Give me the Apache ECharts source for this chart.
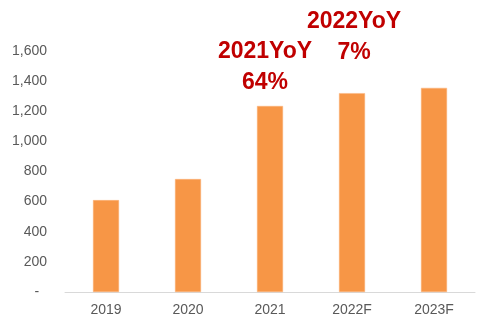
<!DOCTYPE html>
<html>
<head>
<meta charset="utf-8">
<script src="https://cdn.jsdelivr.net/npm/echarts@6/dist/echarts.min.js"></script>
<style>
html,body{margin:0;padding:0;background:#fff;}
#c{width:492px;height:326px;}
</style>
</head>
<body>
<div id="c"></div>
<script>
const categories = ['2019', '2020', '2021', '2022F', '2023F'];
const values = [610, 750, 1235, 1320, 1355];
const yTicks = [0, 200, 400, 600, 800, 1000, 1200, 1400, 1600];
const annotationCats = ['2021', '2022F'];
const annotationTexts = ['2021YoY\n64%', '2022YoY\n7%'];
const annotationLevels = [1494, 1690];
const annotationShift = [-5, 2];

const chart = echarts.init(document.getElementById('c'), null, {renderer: 'canvas'});
const fmt = v => v === 0 ? '-  ' : v.toLocaleString('en-US');

chart.setOption({
  animation: false,
  grid: {left: 65, right: 17, top: 51, bottom: 34, containLabel: false},
  xAxis: {
    type: 'category',
    data: categories,
    axisLine: {show: true, lineStyle: {color: '#d9d9d9', width: 1}},
    axisTick: {show: false},
    axisLabel: {color: '#595959', fontSize: 14, fontFamily: 'Liberation Sans', margin: 11}
  },
  yAxis: {
    type: 'value',
    min: yTicks[0],
    max: yTicks[yTicks.length - 1],
    interval: 200,
    splitLine: {show: false},
    axisLine: {show: false},
    axisTick: {show: false},
    axisLabel: {color: '#595959', fontSize: 14, fontFamily: 'Liberation Sans', margin: 18, formatter: fmt}
  },
  series: [{
    type: 'bar',
    data: values,
    barWidth: 26,
    itemStyle: {color: '#F79646', borderColor: '#FAB27A', borderWidth: 0.5}
  }]
});

const graphics = annotationCats.map((c, i) => {
  const p = chart.convertToPixel({xAxisIndex: 0, yAxisIndex: 0}, [c, annotationLevels[i]]);
  return {
    type: 'text',
    x: p[0] + annotationShift[i],
    y: p[1],
    z: 10,
    style: {
      text: annotationTexts[i],
      fill: '#C00000',
      fontSize: 23,
      fontWeight: 'bold',
      fontFamily: 'Liberation Sans',
      lineHeight: 31,
      align: 'center',
      verticalAlign: 'middle'
    }
  };
});
chart.setOption({graphic: graphics});
</script>
</body>
</html>
